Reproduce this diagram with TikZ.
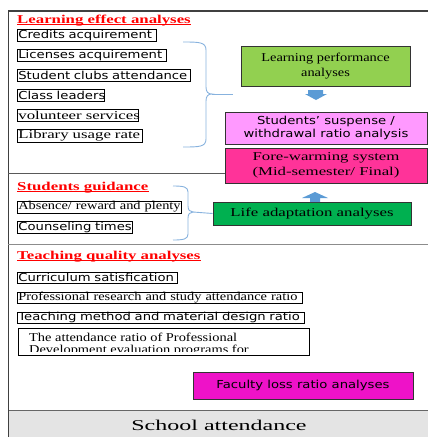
\documentclass[tikz,border=0pt]{standalone}
\usepackage{fontspec}
\setmainfont{Liberation Serif}
\newfontfamily\sfw[FakeStretch=1.2]{DejaVu Sans}
\newfontfamily\rma[FakeStretch=1.2]{Liberation Serif}
\newfontfamily\rmb[FakeStretch=1.4]{Liberation Serif}
\newfontfamily\rmc[FakeStretch=1.6]{Liberation Serif}

\definecolor{limegreen}{HTML}{92D050}
\definecolor{lightviolet}{HTML}{FF99FF}
\definecolor{hotpink}{HTML}{FF3399}
\definecolor{lifegreen}{HTML}{00B050}
\definecolor{facultymag}{RGB}{238,18,200}
\definecolor{arrowcol}{HTML}{5B9BD5}
\definecolor{bracecol}{RGB}{135,178,222}
\definecolor{bandgray}{RGB}{228,228,228}

\tikzset{
  frameline/.style={draw=black!75, line width=1.1pt},
  divider/.style={draw=black!65, line width=0.9pt},
  itembox/.style={draw=black, line width=0.7pt, inner xsep=1pt, inner ysep=0pt,
    minimum height=12pt, anchor=west, align=left},
  sfitem/.style={itembox, font=\sfw\fontsize{11}{12}\selectfont},
  rmitem/.style={itembox, font=\rma\fontsize{12}{13}\selectfont},
  rmwitem/.style={itembox, font=\rmb\fontsize{12}{13}\selectfont},
  heading/.style={anchor=base west, inner sep=0pt, text=red,
    font=\rmb\bfseries\fontsize{12}{14}\selectfont},
  underl/.style={draw=red, line width=0.8pt},
  panel/.style={draw=black!80, line width=0.9pt, align=center, inner sep=0pt},
  brace/.style={draw=bracecol, line width=0.9pt},
  blockarrow/.style={fill=arrowcol, draw=none},
}

\begin{document}
\begin{tikzpicture}[x=1pt, y=-1pt]
\useasboundingbox (0,0) rectangle (428,437);

% bottom band
\fill[bandgray] (8,410) rectangle (428,437);
\draw[draw=black!60, line width=0.9pt] (8,410) -- (428,410);
\node[font=\rmc\fontsize{15}{16}\selectfont, inner sep=0pt] (school) at (219,425) {School attendance};

% outer frame and section dividers
\draw[frameline] (8,11) -- (428,11);
\draw[frameline] (8.5,11) -- (8.5,437);
\draw[divider] (8,173) -- (428,173);
\draw[draw=black!45, line width=0.9pt] (8,244) -- (428,244);

% ---- learning effect analyses
\node[heading] (h1) at (17,23) {Learning effect analyses};
\draw[underl] ([yshift=-1.6pt]h1.base west) -- ([yshift=-1.6pt]h1.base east);

\node[sfitem, text width=137.3pt] (credits) at (17,35) {\mbox{Credits acquirement}};
\node[sfitem, text width=147.3pt] (licenses) at (17,55) {\mbox{Licenses acquirement}};
\node[sfitem, text width=171.3pt] (clubs) at (17,75) {\mbox{Student clubs attendance}};
\node[sfitem, text width=85.3pt] (leaders) at (17,95) {\mbox{Class leaders}};
\node[rmwitem, text width=119.3pt] (volunteer) at (17,115) {\mbox{volunteer services}};
\node[rmwitem, text width=123.3pt, minimum height=13pt] (library) at (17,135.5) {\mbox{Library usage rate}};

% brace gathering the learning indicators
\draw[brace] (183,42) .. controls (199,42) and (206,42) .. (206,50) -- (206,87)
  .. controls (206,92) and (208,94) .. (212,94)
  .. controls (208,94) and (206,96) .. (206,101) -- (206,139)
  .. controls (206,147) and (199,147) .. (183,147);
\coordinate (b1tip) at (212,94);
\coordinate (b1end) at (233,94);
\draw[brace] (b1tip) -- (b1end);

\node[panel, fill=limegreen, minimum width=169pt, minimum height=40pt,
  font=\rma\fontsize{12}{15}\selectfont] (perf) at (325.5,66)
  {Learning performance\\analyses};

\node[panel, fill=lightviolet, minimum width=202pt, minimum height=32pt,
  font=\sfw\fontsize{11}{13}\selectfont] (suspense) at (326,128)
  {Students’ suspense /\\withdrawal ratio analysis};

% arrow from learning performance down to suspense analysis
\fill[blockarrow] (308,90) -- (323,90) -- (323,94) -- (327,94) -- (316,100)
  -- (305,94) -- (308,94) -- cycle;

\node[panel, fill=hotpink, minimum width=202pt, minimum height=35pt,
  font=\rmb\fontsize{12}{14.5}\selectfont] (warning) at (326,165.5)
  {Fore-warming system\\(Mid-semester/ Final)};

% ---- students guidance
\node[heading] (h2) at (17,190) {Students guidance};
\draw[underl] ([yshift=-1.6pt]h2.base west) -- ([yshift=-1.6pt]h2.base east);

\node[rmitem, text width=162.3pt] (absence) at (17,207) {\mbox{Absence/ reward and plenty}};
\node[sfitem, text width=113.3pt] (counsel) at (17,227) {\mbox{Counseling times}};

\draw[brace] (173,186) .. controls (184,186) and (188,187) .. (188,192) -- (188,206)
  .. controls (188,210) and (190,212) .. (193,212)
  .. controls (190,212) and (188,214) .. (188,218) -- (188,234)
  .. controls (188,239) and (184,240) .. (173,240);
\coordinate (b2tip) at (193,212);

\node[panel, fill=lifegreen, minimum width=198pt, minimum height=23pt,
  font=\rmb\fontsize{12}{14}\selectfont] (life) at (312,213.5)
  {Life adaptation analyses};
\draw[brace] (b2tip) -- (life.west);

% arrow from life adaptation up to the fore-warming system
\fill[blockarrow] (310,202) -- (320,202) -- (320,198) -- (328,198) -- (315,192)
  -- (302,198) -- (310,198) -- cycle;

% ---- teaching quality analyses
\node[heading] (h3) at (17,259) {Teaching quality analyses};
\draw[underl] ([yshift=-1.6pt]h3.base west) -- ([yshift=-1.6pt]h3.base east);

\node[sfitem, text width=158.3pt, minimum height=11pt] (curric) at (17,277.5) {\mbox{Curriculum satisfication}};
\node[rmitem, text width=283.3pt, minimum height=11pt] (research) at (17,297.5) {\mbox{Professional research and study attendance ratio}};
\node[sfitem, text width=285.3pt, minimum height=11pt] (method) at (17,317.5) {\mbox{Teaching method and material design ratio}};

\node[draw=black, line width=0.7pt, minimum width=291pt, minimum height=27pt,
  anchor=north west, inner sep=0pt] (devbox) at (18,328) {};
\begin{scope}
  \clip (18,328) rectangle (309,351.5);
  \node[anchor=base west, inner sep=0pt, font=\rma\fontsize{12}{13}\selectfont]
    (devline1) at (29,341) {The attendance ratio of Professional};
  \node[anchor=base west, inner sep=0pt, font=\rma\fontsize{12}{13}\selectfont]
    (devline2) at (29,353.5) {Development evaluation programs for};
\end{scope}

\node[panel, fill=facultymag, minimum width=220pt, minimum height=27pt,
  font=\sfw\fontsize{11}{13}\selectfont] (faculty) at (303,385.5)
  {Faculty loss ratio analyses};

\end{tikzpicture}
\end{document}
